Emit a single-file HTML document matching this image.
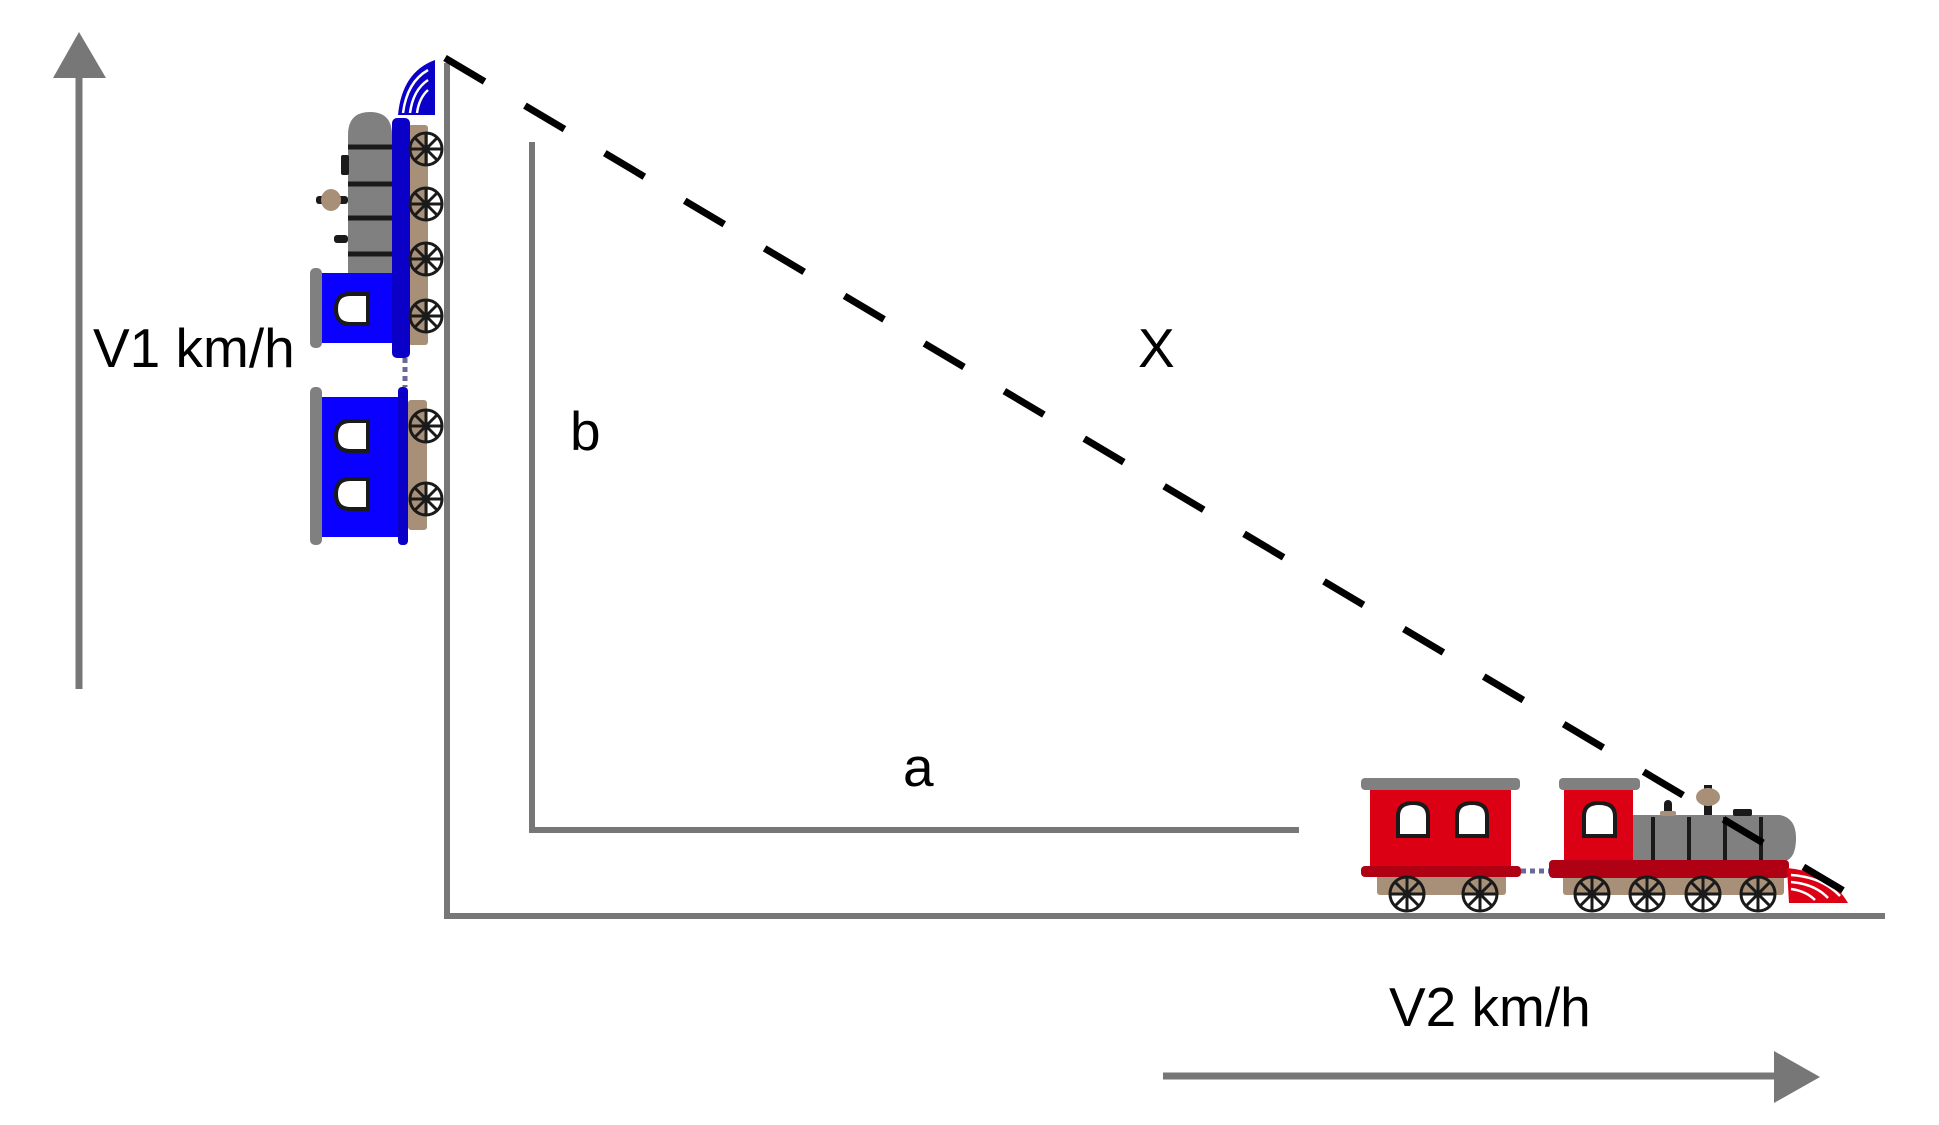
<!DOCTYPE html>
<html><head><meta charset="utf-8"><style>
html,body{margin:0;padding:0;background:#fff;}
svg{display:block;}
text{font-family:"Liberation Sans",sans-serif;fill:#000;}
</style></head><body>
<svg width="1939" height="1125" viewBox="0 0 1939 1125">
<g>
<line x1="79" y1="689" x2="79" y2="74" stroke="#777" stroke-width="7"/>
<polygon points="79,32 53,78 106,78" fill="#777"/>
</g>
<text x="93" y="367" font-size="55">V1 km/h</text>
<polyline points="447,63 447,916 1885,916" fill="none" stroke="#777" stroke-width="6"/>
<polyline points="532,142 532,830 1299,830" fill="none" stroke="#777" stroke-width="6"/>
<text x="570" y="450" font-size="55">b</text>
<text x="903" y="786" font-size="55">a</text>
<text x="1138" y="367" font-size="55">X</text>
<text x="1389" y="1026" font-size="55">V2 km/h</text>
<g>
<line x1="1163" y1="1076" x2="1780" y2="1076" stroke="#777" stroke-width="7"/>
<polygon points="1820,1077 1774,1051 1774,1103" fill="#777"/>
</g>

<g>
<path d="M398,115 Q402,72 435,60 L435,115 Z" fill="#0a00c8"/>
<path d="M403,113 Q407,82 428,70 M410,113 Q413,90 428,80 M417,113 Q419,98 428,90" stroke="#fff" stroke-width="2.5" fill="none"/>
<rect x="408" y="125" width="20" height="220" rx="3" fill="#a89078"/>
<path d="M348,273 L348,135 Q348,112 370,112 Q392,112 392,135 L392,273 Z" fill="#808080"/>
<g stroke="#1a1a1a" stroke-width="5">
<line x1="348" y1="147" x2="392" y2="147"/><line x1="348" y1="184" x2="392" y2="184"/>
<line x1="348" y1="218" x2="392" y2="218"/><line x1="348" y1="254" x2="392" y2="254"/>
</g>
<rect x="341" y="155" width="8" height="20" rx="2" fill="#1a1a1a"/>
<rect x="316" y="196" width="32" height="8" rx="3" fill="#1a1a1a"/>
<ellipse cx="331" cy="200" rx="10" ry="11" fill="#a89078"/>
<rect x="334" y="235" width="14" height="8" rx="3" fill="#1a1a1a"/>
<rect x="322" y="273" width="72" height="70" fill="#0a00ff"/>
<rect x="310" y="268" width="12" height="80" rx="5" fill="#808080"/>
<path d="M368,294 L350,294 Q336,294 336,309 Q336,324 350,324 L368,324 Z" fill="#fff" stroke="#1a1a1a" stroke-width="4"/>
<rect x="392" y="118" width="18" height="240" rx="5" fill="#0a00c8"/>
<line x1="405" y1="358" x2="405" y2="387" stroke="#6a6a9a" stroke-width="5" stroke-dasharray="5,4"/>
<rect x="408" y="400" width="19" height="130" rx="3" fill="#a89078"/>
<rect x="322" y="397" width="76" height="140" fill="#0a00ff"/>
<rect x="310" y="387" width="12" height="158" rx="5" fill="#808080"/>
<rect x="398" y="387" width="10" height="158" rx="4" fill="#0a00c8"/>
<path d="M368,421 L350,421 Q336,421 336,436 Q336,451 350,451 L368,451 Z" fill="#fff" stroke="#1a1a1a" stroke-width="4"/>
<path d="M368,479 L350,479 Q336,479 336,494 Q336,509 350,509 L368,509 Z" fill="#fff" stroke="#1a1a1a" stroke-width="4"/>
<g fill="none" stroke="#1a1a1a" stroke-width="3">
<g><circle cx="426" cy="149" r="16"/><path d="M410,149H442M426,133V165M415,138L437,160M437,138L415,160"/></g>
<g><circle cx="426" cy="204" r="16"/><path d="M410,204H442M426,188V220M415,193L437,215M437,193L415,215"/></g>
<g><circle cx="426" cy="259" r="16"/><path d="M410,259H442M426,243V275M415,248L437,270M437,248L415,270"/></g>
<g><circle cx="426" cy="316" r="16"/><path d="M410,316H442M426,300V332M415,305L437,327M437,305L415,327"/></g>
<g><circle cx="426" cy="426" r="16"/><path d="M410,426H442M426,410V442M415,415L437,437M437,415L415,437"/></g>
<g><circle cx="426" cy="499" r="16"/><path d="M410,499H442M426,483V515M415,488L437,510M437,488L415,510"/></g>
</g>
</g>

<g>
<rect x="1377" y="872" width="129" height="23" rx="3" fill="#a89078"/>
<rect x="1370" y="790" width="141" height="78" fill="#dc0014"/>
<rect x="1361" y="778" width="159" height="12" rx="4" fill="#808080"/>
<path d="M1398,836 L1398,816 Q1398,803 1413,803 Q1428,803 1428,816 L1428,836 Z" fill="#fff" stroke="#1a1a1a" stroke-width="4"/>
<path d="M1457,836 L1457,816 Q1457,803 1472,803 Q1487,803 1487,816 L1487,836 Z" fill="#fff" stroke="#1a1a1a" stroke-width="4"/>
<rect x="1361" y="866" width="160" height="11" rx="4" fill="#b00014"/>
<line x1="1521" y1="871" x2="1549" y2="871" stroke="#6a6a9a" stroke-width="5" stroke-dasharray="5,4"/>
<rect x="1563" y="872" width="221" height="23" rx="3" fill="#a89078"/>
<path d="M1633,862 L1633,815 L1780,815 Q1796,818 1796,838 Q1796,862 1780,862 Z" fill="#808080"/>
<g stroke="#1a1a1a" stroke-width="4">
<line x1="1653" y1="817" x2="1653" y2="860"/><line x1="1689" y1="817" x2="1689" y2="860"/>
<line x1="1725" y1="817" x2="1725" y2="860"/><line x1="1761" y1="817" x2="1761" y2="860"/>
</g>
<rect x="1704" y="785" width="8" height="30" fill="#1a1a1a"/>
<ellipse cx="1708" cy="797" rx="12" ry="9" fill="#a89078"/>
<rect x="1664" y="800" width="8" height="15" rx="4" fill="#1a1a1a"/>
<rect x="1660" y="811" width="16" height="5" rx="2" fill="#a89078"/>
<rect x="1733" y="809" width="19" height="7" rx="2" fill="#1a1a1a"/>
<rect x="1564" y="790" width="69" height="72" fill="#dc0014"/>
<rect x="1559" y="778" width="81" height="12" rx="4" fill="#808080"/>
<path d="M1584,836 L1584,816 Q1584,803 1599,803 Q1615,803 1615,816 L1615,836 Z" fill="#fff" stroke="#1a1a1a" stroke-width="4"/>
<rect x="1549" y="860" width="240" height="18" rx="4" fill="#b00014"/>
<path d="M1787,868 Q1830,872 1848,903 L1789,903 Z" fill="#dc0014"/>
<path d="M1791,875 Q1822,877 1840,896 M1791,882 Q1815,884 1828,898 M1791,889 Q1806,891 1815,900" stroke="#fff" stroke-width="2.5" fill="none"/>
<g fill="none" stroke="#1a1a1a" stroke-width="3">
<g><circle cx="1407" cy="894" r="17"/><path d="M1390,894H1424M1407,877V911M1395,882L1419,906M1419,882L1395,906"/></g>
<g><circle cx="1480" cy="894" r="17"/><path d="M1463,894H1497M1480,877V911M1468,882L1492,906M1492,882L1468,906"/></g>
<g><circle cx="1592" cy="894" r="17"/><path d="M1575,894H1609M1592,877V911M1580,882L1604,906M1604,882L1580,906"/></g>
<g><circle cx="1647" cy="894" r="17"/><path d="M1630,894H1664M1647,877V911M1635,882L1659,906M1659,882L1635,906"/></g>
<g><circle cx="1703" cy="894" r="17"/><path d="M1686,894H1720M1703,877V911M1691,882L1715,906M1715,882L1691,906"/></g>
<g><circle cx="1758" cy="894" r="17"/><path d="M1741,894H1775M1758,877V911M1746,882L1770,906M1770,882L1746,906"/></g>
</g>
</g>

<line x1="445" y1="58" x2="1859" y2="900" stroke="#000" stroke-width="7" stroke-dasharray="46,47"/>
</svg>
</body></html>
